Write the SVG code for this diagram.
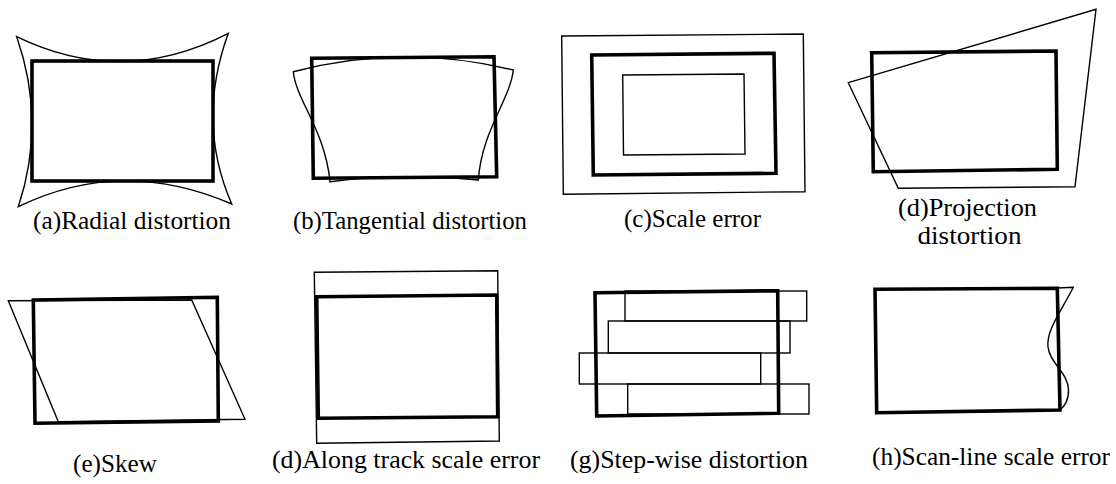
<svg xmlns="http://www.w3.org/2000/svg" width="1116" height="484" viewBox="0 0 1116 484">
<style>
.thick{fill:none;stroke:#000;stroke-width:3.6;stroke-linejoin:miter}
.thin{fill:none;stroke:#000;stroke-width:1.4;stroke-linejoin:miter}
.lbl{font-family:"Liberation Serif","Times New Roman",serif;font-size:25.5px;fill:#000;text-anchor:middle}
</style>
<rect width="1116" height="484" fill="#fff"/>
<g id="a-radial">
<path class="thin" d="M16.7,36.7 Q122,88 228.3,33.3 Q196,122 231.7,204 Q122,156.5 18.3,206.7 Q46.5,122 16.7,36.7 Z"/>
<rect class="thick" x="32" y="61" width="181" height="120"/>
<text class="lbl" x="132" y="229" textLength="198" lengthAdjust="spacingAndGlyphs">(a)Radial distortion</text>
</g>
<g id="b-tangential">
<polygon class="thick" points="311.7,58.3 494,56.7 496.7,176.7 313.3,178.3"/>
<path class="thin" d="M293.3,71.7 Q403,43 513.3,70 C510,100 482,130 478.3,180 Q404,172.5 330,181.7 C325,130 296,100 293.3,71.7 Z"/>
<text class="lbl" x="410" y="229" textLength="234" lengthAdjust="spacingAndGlyphs">(b)Tangential distortion</text>
</g>
<g id="c-scale">
<polygon class="thin" points="561.7,36 803.3,34 805,191.7 563.3,194.3"/>
<polygon class="thick" points="591.7,55 774,53.3 776,173.3 593.3,175"/>
<polygon class="thin" points="622.7,75 744,74 745,154 623.5,155"/>
<text class="lbl" x="692.5" y="227" textLength="137" lengthAdjust="spacingAndGlyphs">(c)Scale error</text>
</g>
<g id="d-projection">
<polygon class="thick" points="871.7,52.7 1056,51 1057.3,169.3 873.3,171.7"/>
<polygon class="thin" points="848.3,82.7 1096,9.3 1075,186.7 898.3,188.3"/>
<text class="lbl" x="967.5" y="216" textLength="139" lengthAdjust="spacingAndGlyphs">(d)Projection</text>
<text class="lbl" x="969.5" y="244" textLength="104" lengthAdjust="spacingAndGlyphs">distortion</text>
</g>
<g id="e-skew">
<polygon class="thin" points="8.3,300.7 191.7,300 245,419.3 58.3,421.7"/>
<polygon class="thick" points="33.3,300 217.3,297.3 218.3,421 35,423.3"/>
<text class="lbl" x="115" y="472" textLength="84" lengthAdjust="spacingAndGlyphs">(e)Skew</text>
</g>
<g id="f-along-track">
<polygon class="thin" points="314.3,272.3 497.7,270.7 499.3,441 316.7,443.3"/>
<polygon class="thick" points="316.7,296.7 496.7,295 497.7,416.7 318.3,418.3"/>
<text class="lbl" x="406" y="468" textLength="268" lengthAdjust="spacingAndGlyphs">(d)Along track scale error</text>
</g>
<g id="g-stepwise">
<rect class="thin" x="625" y="291" width="181.7" height="30"/>
<rect class="thin" x="608.3" y="321" width="181.7" height="32"/>
<rect class="thin" x="579.3" y="353" width="181.4" height="31"/>
<rect class="thin" x="627.7" y="384" width="181.3" height="30"/>
<polygon class="thick" points="595,292.7 777.7,290.7 778.7,413.3 596.7,416"/>
<text class="lbl" x="689" y="468" textLength="238" lengthAdjust="spacingAndGlyphs">(g)Step-wise distortion</text>
</g>
<g id="h-scanline">
<path class="thin" d="M1057.3,288 L1073.3,287.3 C1062,310 1046,330 1048,347 C1050,364 1068,372 1068.5,390 C1069,400 1064,407 1060,410"/>
<polygon class="thick" points="875,289.3 1057.3,288.3 1060,410 876.7,412.7"/>
<text class="lbl" x="991" y="465" textLength="238" lengthAdjust="spacingAndGlyphs">(h)Scan-line scale error</text>
</g>
<g id="connectors"/>
</svg>
